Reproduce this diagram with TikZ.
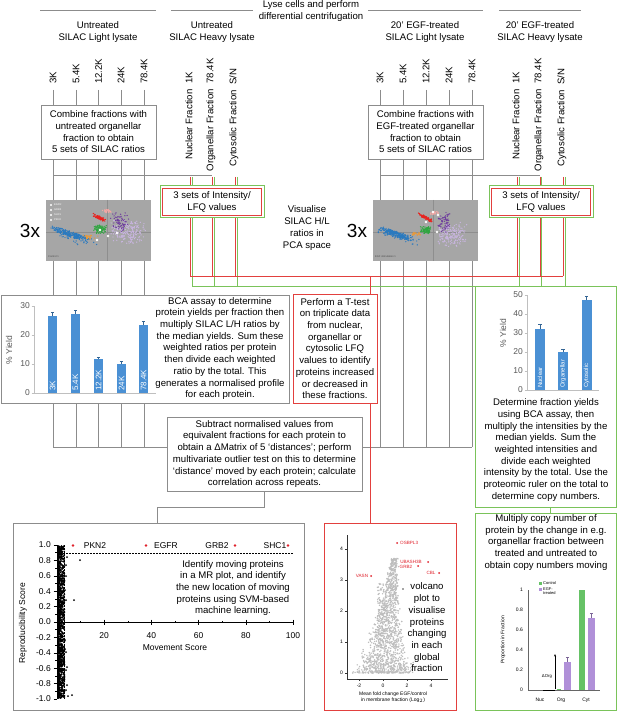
\documentclass[tikz,border=0pt]{standalone}
\usepackage{fontspec}
\setmainfont{Liberation Sans}
\usetikzlibrary{arrows.meta}
\definecolor{gl}{HTML}{8C8C8C}
\definecolor{rl}{HTML}{E2403E}
\definecolor{gn}{HTML}{7AC35A}
\definecolor{bb}{HTML}{4A90D4}
\definecolor{axc}{HTML}{BFBFBF}
\definecolor{labc}{HTML}{595959}
\definecolor{pcabg}{HTML}{A6A6A6}
\definecolor{pcaln}{HTML}{8E8E8E}
\definecolor{pblue}{HTML}{2A7AC0}
\definecolor{porange}{HTML}{E89A3C}
\definecolor{pgreen}{HTML}{2FA640}
\definecolor{pred}{HTML}{E8231F}
\definecolor{ppink}{HTML}{F2A7A4}
\definecolor{ppurple}{HTML}{6E3C9E}
\definecolor{plav}{HTML}{C9B5E0}
\definecolor{vgrey}{HTML}{BDBDBD}
\definecolor{cgreen}{HTML}{66C266}
\definecolor{cpurple}{HTML}{B090D8}
\definecolor{vred}{HTML}{E0202A}
\newcommand\pcaclust[7]{%
  \foreach \k in {1,...,#6}{%
    \pgfmathsetmacro\pu{rand*(0.4+0.6*rnd)}%
    \pgfmathsetmacro\pv{rand*(0.4+0.6*rnd)}%
    \fill[#1] ({#2+#4*\pu},{#3+#5*\pv+#7*#4*\pu}) circle (0.7pt);
  }}
\begin{document}
\begin{tikzpicture}[x=1pt,y=-1pt,
  txt/.style={font=\fontsize{9.6}{11.7}\selectfont,align=center,inner sep=0pt},
  gline/.style={draw=gl,line width=0.8pt},
  rline/.style={draw=rl,line width=0.8pt},
  nline/.style={draw=gn,line width=0.8pt},
  gbox/.style={draw=gl,line width=0.9pt,fill=white,inner sep=0pt},
  rbox/.style={draw=rl,line width=1pt,fill=white,inner sep=0pt},
  nbox/.style={draw=gn,line width=1pt,fill=white,inner sep=0pt},
  ax8/.style={font=\fontsize{8.5}{9}\selectfont,text=labc,inner sep=0pt},
  mrax/.style={font=\fontsize{8.5}{9}\selectfont,inner sep=0pt},
  barlab/.style={font=\fontsize{8}{9}\selectfont,text=white,inner sep=0pt,rotate=90,anchor=west},
  tiny/.style={font=\fontsize{5}{5.6}\selectfont,inner sep=0pt},
  vlab/.style={font=\fontsize{4.6}{5}\selectfont,text=vred,inner sep=0pt},
  micro/.style={font=\fontsize{2.6}{3}\selectfont,text=white,inner sep=0pt,anchor=west},
  three/.style={font=\fontsize{19}{20}\selectfont,inner sep=0pt}]
\pgfmathsetseed{7}
\useasboundingbox (0,0) rectangle (617,711);
\fill[white] (0,0) rectangle (617,711);

% ---------- header ----------
\node[txt] (title) at (311,11) {Lyse cells and perform\\differential centrifugation};
\draw[gline] (40,10) -- (156,10);
\draw[gline] (171,10) -- (253,10);
\draw[gline] (368,10) -- (483,10);
\draw[gline] (499,10) -- (581,10);
\node[txt] (uL) at (98,32) {Untreated\\SILAC Light lysate};
\node[txt] (uH) at (212,32) {Untreated\\SILAC Heavy lysate};
\node[txt] (eL) at (425,32) {20’ EGF-treated\\SILAC Light lysate};
\node[txt] (eH) at (540,32) {20’ EGF-treated\\SILAC Heavy lysate};

% ---------- backbone lines ----------
\foreach \x in {53,76,98.5,121,144,380,403,426,449,472}{\draw[gline] (\x,159) -- (\x,447);}
\draw[gline] (53,175) -- (212,175);
\draw[gline] (380,175) -- (540,175);
\draw[gline] (53,447) -- (472,447);
\foreach \x in {190,212,235,517,540,563}{\draw[rline] (\x,177) -- (\x,276);}
\foreach \x in {192,214,237,519,541,565}{\draw[nline] (\x,177) -- (\x,286);}
\draw[rline] (190,276) -- (563,276);
\draw[nline] (192,286) -- (565,286);

% ---------- fraction labels ----------
\foreach \x/\lbl [count=\i] in {53/3K,76/5.4K,98.5/12.2K,121/24K,144/78.4K}{
  \node[txt,rotate=90,anchor=west] (fl\i) at (\x,84) {\lbl};
  \draw[gline] ([yshift=-6pt]fl\i.west) -- (\x,105);
}
\foreach \x/\lbl [count=\i] in {380/3K,403/5.4K,426/12.2K,449/24K,472/78.4K}{
  \node[txt,rotate=90,anchor=west] (fr\i) at (\x,84) {\lbl};
  \draw[gline] ([yshift=-6pt]fr\i.west) -- (\x,105);
}
\node[txt,rotate=90] (hnL) at (189,116) {Nuclear Fraction\hspace{3pt} 1K};
\node[txt,rotate=90] (hoL) at (211,115) {Organellar Fraction\hspace{3pt} 78.4K};
\node[txt,rotate=90] (hcL) at (234,117.5) {Cytosolic Fraction\hspace{3pt} S/N};
\node[txt,rotate=90] (hnR) at (516,116) {Nuclear Fraction\hspace{3pt} 1K};
\node[txt,rotate=90] (hoR) at (539,115) {Organellar Fraction\hspace{3pt} 78.4K};
\node[txt,rotate=90] (hcR) at (562,117.5) {Cytosolic Fraction\hspace{3pt} S/N};

% ---------- combine boxes ----------
\node[gbox,txt,draw=gl,fill=white,minimum width=115pt,minimum height=54pt] (combL) at (98.5,132)
  {Combine fractions with\\untreated organellar\\fraction to obtain\\5 sets of SILAC ratios};
\node[gbox,txt,draw=gl,fill=white,minimum width=115pt,minimum height=54pt] (combR) at (425.5,132)
  {Combine fractions with\\EGF-treated organellar\\fraction to obtain\\5 sets of SILAC ratios};

% ---------- LFQ boxes ----------
\node[nbox,minimum width=104pt,minimum height=32pt] (lfqLo) at (212,202) {};
\node[rbox,txt,line width=0.9pt,minimum width=99.5pt,minimum height=27.5pt] (lfqL) at (212,202) {3 sets of Intensity/\\LFQ values};
\node[nbox,minimum width=104pt,minimum height=32pt] (lfqRo) at (541,202) {};
\node[rbox,txt,line width=0.9pt,minimum width=99.5pt,minimum height=27.5pt] (lfqR) at (541,202) {3 sets of Intensity/\\LFQ values};

% ---------- PCA pictures ----------
\node[three] (threeL) at (30,231) {3x};
\node[three] (threeR) at (357,231) {3x};
\node[txt] (vis) at (307,228) {Visualise\\SILAC H/L\\ratios in\\PCA space};
\begin{scope}
  \fill[pcabg] (46,200) rectangle (151,261);
  \clip (46,200) rectangle (151,261);
  \draw[pcaln,line width=0.5pt] (46,232) -- (151,232) (107,200) -- (107,261);
  \pcaclust{plav}{127}{232}{20}{13}{200}{0}
  \pcaclust{ppurple}{120}{222}{10}{11}{70}{0}
  \pcaclust{pblue}{72}{236}{26}{7}{50}{0.3}
  \pcaclust{pblue}{70}{234}{20}{3.5}{220}{0.3}
  \pcaclust{porange}{90}{237}{8}{3}{25}{0}
  \pcaclust{pgreen}{100}{229}{7}{5}{90}{0}
  \pcaclust{ppink}{108}{211}{6}{2.5}{30}{0}
  \pcaclust{pred}{100}{218}{7}{2}{80}{0.5}
  \foreach \p in {(100,230),(108,236),(97,240),(117,233)}{\fill[white] \p circle (1.3pt);}
  \foreach \y/\lbl [count=\i] in {205/EGFR,210/GRB2,215/SHC1,220/PKN2}{
    \fill[white] (51,\y) circle (1.1pt);
    \node[micro] (lgL\i) at (54,\y) {\lbl};}
  \node[micro,text=black!70] (ctl) at (48,257) {Control 1};
\end{scope}
\begin{scope}
  \fill[pcabg] (373,200) rectangle (478,261);
  \clip (373,200) rectangle (478,261);
  \draw[pcaln,line width=0.5pt] (373,232) -- (478,232) (433,200) -- (433,261);
  \pcaclust{plav}{452}{234}{16}{13}{200}{0}
  \pcaclust{ppurple}{444}{222}{8}{11}{70}{0}
  \pcaclust{pblue}{398}{236}{24}{6}{50}{0.3}
  \pcaclust{pblue}{396}{234}{18}{3.5}{220}{0.3}
  \pcaclust{porange}{416}{234}{6}{2}{25}{0}
  \pcaclust{pgreen}{426}{230}{6}{4}{90}{0}
  \pcaclust{ppink}{434}{213}{5}{2}{30}{0}
  \pcaclust{pred}{426}{218}{8}{2}{80}{0.5}
  \foreach \p in {(433,212),(438,215),(426,222),(437,232)}{\fill[white] \p circle (1.3pt);}
  \node[micro,text=black!70] (egfs) at (375,257) {EGF stimulation 1};
\end{scope}

% ---------- BCA box ----------
\node[gbox,minimum width=288pt,minimum height=108pt] (bca) at (145,349) {};
\draw[axc,line width=0.6pt] (34,306) -- (34,393) -- (156,393);
\foreach \y/\lbl [count=\i] in {306/30,335/20,364/10,393/0}{
  \draw[axc,line width=0.6pt] (31.5,\y) -- (34,\y);
  \node[ax8,anchor=east] (bt\i) at (30,\y) {\lbl};}
\node[ax8,rotate=90] (bcay) at (9,350) {\% Yield};
\foreach \x/\tp/\er/\lbl [count=\i] in {52.5/316/4/3K,75.5/314/4/5.4K,98.5/359/2/12.2K,121.5/364/3/24K,143.5/325/4/78.4K}{
  \fill[bb] (\x-4.5,\tp) rectangle (\x+4.5,393);
  \draw[bb!70!black,line width=0.6pt] (\x,\tp) -- (\x,\tp-\er) (\x-1.6,\tp-\er) -- (\x+1.6,\tp-\er);
  \node[barlab] (bl\i) at (\x,391) {\lbl};}
\node[txt] (bcatxt) at (220,348.5) {BCA assay to determine\\protein yields per fraction then\\multiply SILAC L/H ratios by\\the median yields. Sum these\\weighted ratios per protein\\then divide each weighted\\ratio by the total. This\\generates a normalised profile\\for each protein.};

% ---------- T-test box ----------
\node[rbox,txt,minimum width=84pt,minimum height=109pt] (ttest) at (335,348.5) {Perform a T-test\\on triplicate data\\from nuclear,\\organellar or\\cytosolic LFQ\\values to identify\\proteins increased\\or decreased in\\these fractions.};
\draw[rline] (370,276) -- (ttest.north -| 370,0);

% ---------- yield box ----------
\node[nbox,minimum width=141pt,minimum height=221pt] (yield) at (545.5,396.5) {};
\draw[axc,line width=0.6pt] (527,295) -- (527,390) -- (599,390);
\foreach \y/\lbl [count=\i] in {295/50,314/40,333/30,352/20,371/10,390/0}{
  \draw[axc,line width=0.6pt] (524.5,\y) -- (527,\y);
  \node[ax8,anchor=east] (yt\i) at (523,\y) {\lbl};}
\node[ax8,rotate=90] (yieldy) at (503,333) {\% Yield};
\foreach \x/\tp/\er/\lbl [count=\i] in {540/329/5/Nuclear,563/352/3/Organellar,586.5/300/4/Cytosolic}{
  \fill[bb] (\x-5,\tp) rectangle (\x+5,390);
  \draw[bb!70!black,line width=0.6pt] (\x,\tp) -- (\x,\tp-\er) (\x-1.6,\tp-\er) -- (\x+1.6,\tp-\er);
  \node[barlab,font=\fontsize{6}{7}\selectfont] (yl\i) at (\x,388) {\lbl};}
\node[txt] (yieldtxt) at (546,450) {Determine fraction yields\\using BCA assay, then\\multiply the intensities by the\\median yields. Sum the\\weighted intensities and\\divide each weighted\\intensity by the total. Use the\\proteomic ruler on the total to\\determine copy numbers.};

% ---------- subtract box ----------
\node[gbox,txt,minimum width=195pt,minimum height=74pt] (subtr) at (264.5,454) {Subtract normalised values from\\equivalent fractions for each protein to\\obtain a ΔMatrix of 5 ‘distances’; perform\\multivariate outlier test on this to determine\\‘distance’ moved by each protein; calculate\\correlation across repeats.};

% ---------- lower boxes ----------
\node[gbox,minimum width=291pt,minimum height=187.5pt] (mr) at (158.5,616.75) {};
\node[rbox,minimum width=132pt,minimum height=187.5pt] (volc) at (390,616.75) {};
\node[nbox,minimum width=141pt,minimum height=197.5pt] (mult) at (545.5,611.75) {};
\coordinate (mrin) at (157,523);
\draw[gline] (subtr.south) -- (264.5,507) -| (mrin);
\draw[rline] (ttest.south -| 370,0) -- (volc.north -| 370,0);
\draw[nline] ([xshift=4.5pt]yield.south) -- ([xshift=4.5pt]mult.north);

% ---------- MR plot ----------
\foreach \k in {1,...,1100}{
  \pgfmathsetmacro\mA{rnd}\pgfmathsetmacro\mB{rand}
  \fill[black] ({58+6.5*\mA*\mA},{622-76*\mB}) circle (1pt);}
\foreach \p in {(67,557),(80,560),(74,600),(68,696),(72,695),(66,670),(67,667),(66,652),(66,576),(65,649),(66,565),(65,640),(66,600),(65,590),(66,690),(67,685)}{\fill[black] \p circle (1pt);}
\draw[black,line width=0.6pt] (57,545) -- (57,699);
\draw[black,line width=0.6pt] (57,622) -- (293,622);
\foreach \v/\lbl [count=\i] in {1/1.0,0.8/0.8,0.6/0.6,0.4/0.4,0.2/0.2,0/0.0,-0.2/-0.2,-0.4/-0.4,-0.6/-0.6,-0.8/-0.8,-1/-1.0}{
  \draw[line width=0.5pt] (53.5,{622-77*\v}) -- (57,{622-77*\v});
  \node[mrax,anchor=east] (mry\i) at (51,{622-77*\v}) {\lbl};}
\foreach \v in {-0.9,-0.7,-0.5,-0.3,-0.1,0.1,0.3,0.5,0.7,0.9}{\draw[line width=0.5pt] (55.2,{622-77*\v}) -- (57,{622-77*\v});}
\foreach \m in {10,30,50,70,90}{\draw[line width=0.5pt] ({57+2.36*\m},620.8) -- ({57+2.36*\m},623.2);}
\foreach \m [count=\i] in {20,40,60,80,100}{
  \draw[line width=0.5pt] ({57+2.36*\m},619.5) -- ({57+2.36*\m},624.5);
  \node[mrax] (mrx\i) at ({57+2.36*\m},636) {\m};}
\draw[line width=0.5pt,dash pattern=on 1.5pt off 1.5pt] (57,553) -- (293,553);
\draw[line width=0.5pt,dash pattern=on 1.5pt off 1.5pt] (64.5,545) -- (64.5,699);
\node[mrax] (mrxl) at (175,648) {Movement Score};
\node[mrax,rotate=90] (mryl) at (23,623) {Reproducibility Score};
\foreach \x in {73,146,235,288}{\fill[vred] (\x,545.5) circle (1.3pt);}
\node[mrax] (pkn) at (95,546) {PKN2};
\node[mrax] (egfr) at (166,546) {EGFR};
\node[mrax] (grb) at (217,546) {GRB2};
\node[mrax] (shc) at (275,546) {SHC1};
\node[txt] (mrtxt) at (233,588) {Identify moving proteins\\in a MR plot, and identify\\the new location of moving\\proteins using SVM-based\\machine learning.};

% ---------- volcano ----------
\foreach \k in {1,...,1300}{
  \pgfmathsetmacro\vY{3.7*(rnd^1.6)}
  \pgfmathsetmacro\vX{0.25*\vY+3.0*exp(-0.55*\vY)*rand*(0.5+0.5*rnd)}
  \fill[vgrey] ({383+12*\vX},{673-31*\vY}) circle (0.8pt);}
\foreach \k in {1,...,120}{
  \pgfmathsetmacro\vY{2.9*rnd}
  \pgfmathsetmacro\vX{-0.2+0.3*rand}
  \fill[vgrey] ({383+12*\vX},{673-31*\vY}) circle (0.8pt);}
\draw[black!80,line width=0.4pt] (347,535) -- (347,679) -- (448,679);
\foreach \v [count=\i] in {0,1,2,3,4}{
  \draw[black!80,line width=0.4pt] (345,{673-31*\v}) -- (347,{673-31*\v});
  \node[tiny,anchor=east] (vy\i) at (343,{673-31*\v}) {\v};}
\foreach \v [count=\i] in {-2,0,2,4}{
  \draw[black!80,line width=0.4pt] ({383+12*\v},679) -- ({383+12*\v},681);
  \node[tiny] (vx\i) at ({383+12*\v},686) {\v};}
\node[tiny,align=center] (vxl) at (393,697.5) {Mean fold change EGF/control\\in membrane fraction (Log$_2$)};
\foreach \p in {(397,543),(428,562),(418,566),(439,573),(371,576)}{\fill[vred] \p circle (1pt);}
\node[vlab,anchor=west] (osb) at (400,543) {OSBPL3};
\node[vlab] (uba) at (411,562) {UBASH3B};
\node[vlab] (grbv) at (406,566.5) {GRB2};
\node[vlab] (cbl) at (431,573) {CBL};
\node[vlab] (vasn) at (362,576) {VASN};
\fill[black!70] (403,589) circle (0.9pt);
\node[txt] (voltxt) at (427,627.5) {volcano\\plot to\\visualise\\proteins\\changing\\in each\\global\\fraction};

% ---------- multiply box ----------
\node[txt] (multtxt) at (546,542.5) {Multiply copy number of\\protein by the change in e.g.\\organellar fraction between\\treated and untreated to\\obtain copy numbers moving};
\draw[black!60,line width=0.4pt] (528,590) -- (528,690) -- (600,690);
\foreach \v/\lbl [count=\i] in {1/1,0.8/0.8,0.6/0.6,0.4/0.4,0.2/0.2,0/0}{
  \node[tiny,anchor=east] (my\i) at (523,{690-100*\v}) {\lbl};}
\fill[cgreen] (557,688.8) rectangle (560.5,690);
\fill[cpurple] (564,662) rectangle (570.5,690);
\fill[cgreen] (578.5,590) rectangle (585,690);
\fill[cpurple] (588,618) rectangle (594.5,690);
\draw[cpurple!70!black,line width=0.4pt] (567.2,662) -- (567.2,657) (565.8,657) -- (568.6,657);
\draw[cpurple!70!black,line width=0.4pt] (591.2,618) -- (591.2,613) (589.8,613) -- (592.6,613);
\fill[cgreen] (538.5,581.5) rectangle (541.5,584.5);
\fill[cpurple] (538.5,587.5) rectangle (541.5,590.5);
\node[tiny,anchor=west,font=\fontsize{4}{4.6}\selectfont] (lgc) at (543,583) {Control};
\node[tiny,anchor=north west,align=left,font=\fontsize{4}{4.6}\selectfont] (lge) at (543,587.3) {EGF-\\treated};
\node[tiny] (nuc) at (540,700) {Nuc};
\node[tiny] (org) at (561,700) {Org};
\node[tiny] (cyt) at (586,700) {Cyt};
\node[tiny,rotate=90] (propl) at (503,640) {Proportion in Fraction};
\draw[-{Stealth[length=2.5pt,width=2pt]},line width=0.4pt] (555,689) -- (555,654);
\draw[line width=0.4pt] (543,690) -- (555,690);
\node[tiny,font=\fontsize{4.3}{5}\selectfont] (dorg) at (547,676) {ΔOrg};
\end{tikzpicture}
\end{document}
